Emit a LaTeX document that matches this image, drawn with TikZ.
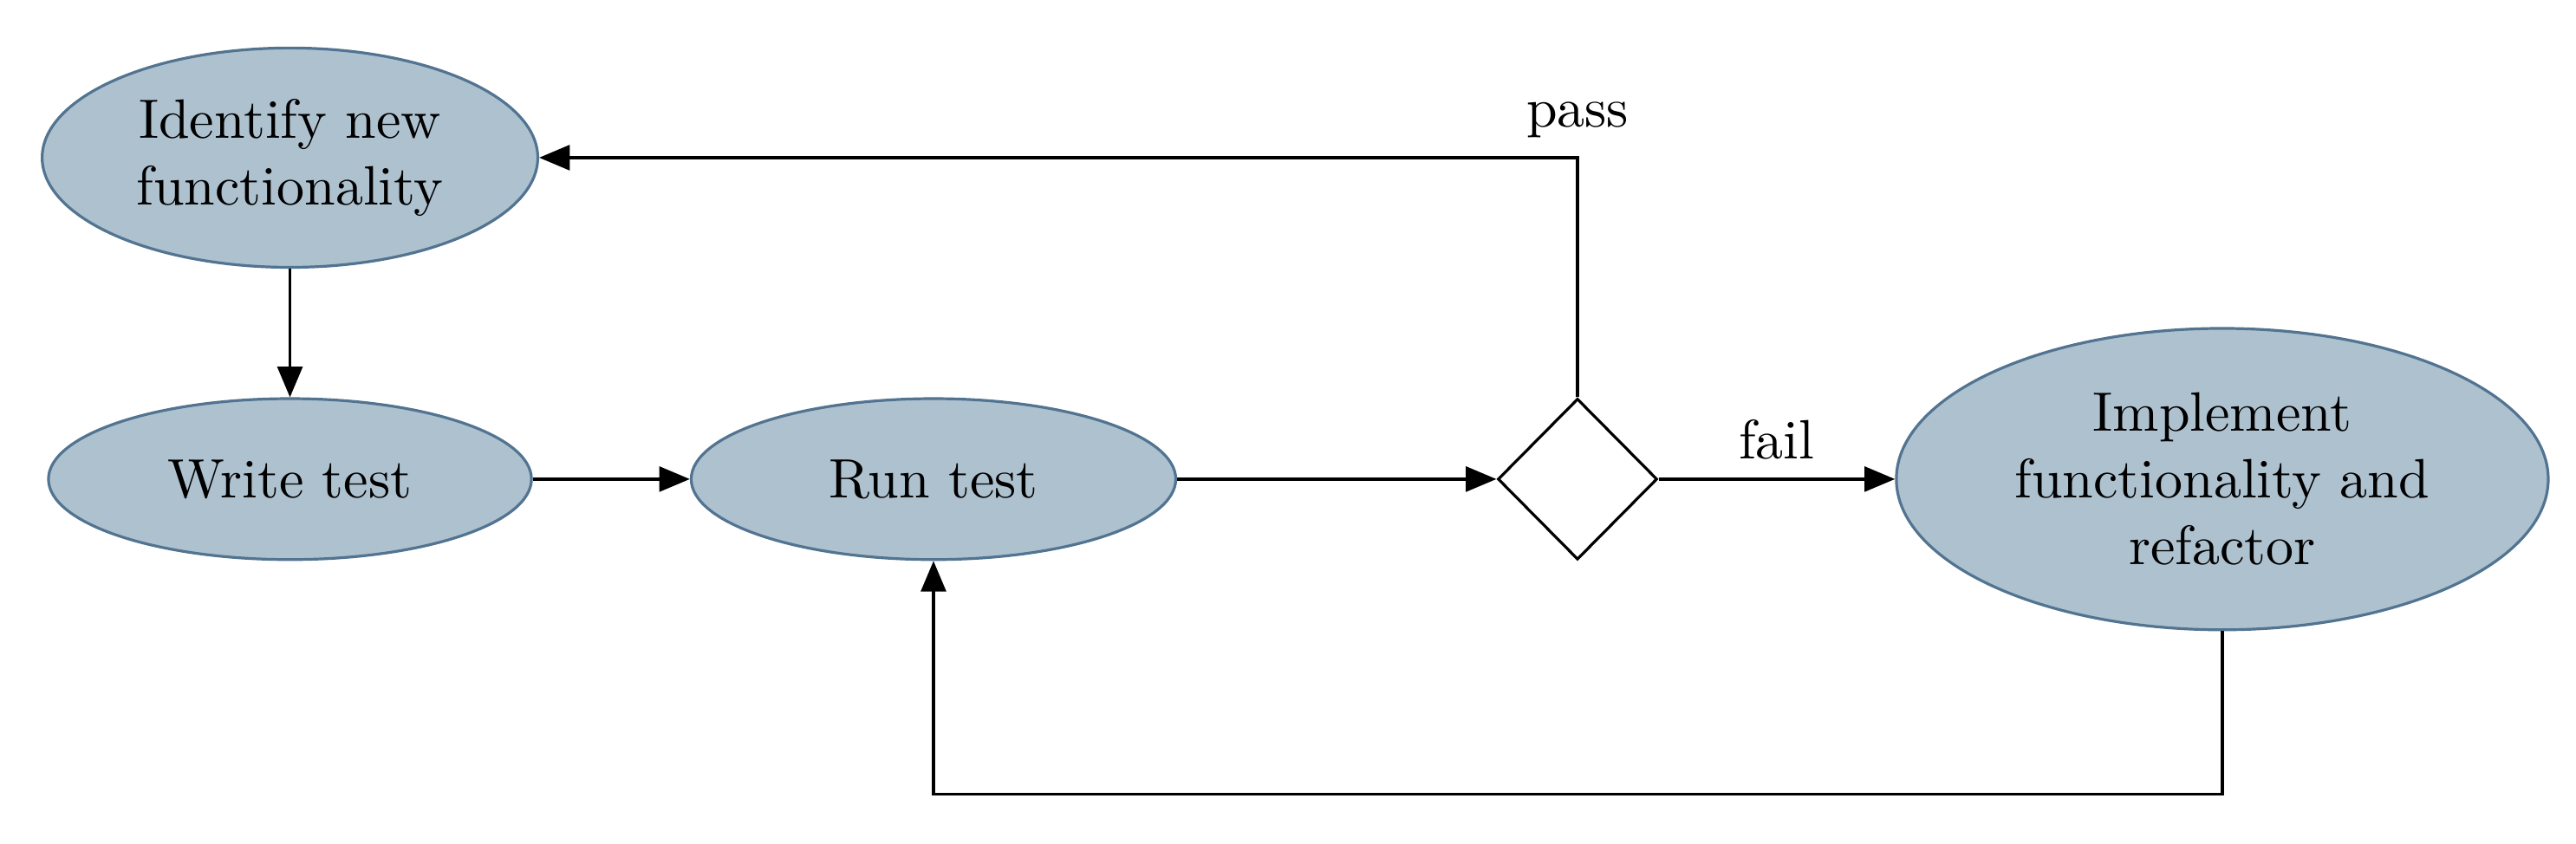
\documentclass[tikz,border=0pt]{standalone}
\usepackage{amsmath}
\usepackage{tikz}
\usetikzlibrary{arrows.meta,shapes,positioning}
\usepackage{color}

\definecolor{blockfill}{RGB}{174,193,207}
\definecolor{blockline}{RGB}{82,116,145}

\tikzset{
  block/.style={ellipse, draw=blockline, fill=blockfill, line width=0.5pt, inner sep=0pt, align=center},
  decision/.style={diamond, draw, line width=0.5pt, inner sep=0pt, minimum width=1.01cm, minimum height=1.02cm},
  flow/.style={line width=0.5pt, -{Triangle[length=5.5pt,width=4.5pt]}}
}

\begin{document}
\begin{tikzpicture}
\useasboundingbox (0,0) rectangle (16.32,5.348);

\node [block, minimum width=3.14cm, minimum height=1.39cm] (ident) at (1.837,4.349) {Identify new\\functionality};
\node [block, minimum width=3.06cm, minimum height=1.02cm] (write) at (1.837,2.312) {Write test};
\node [block, minimum width=3.07cm, minimum height=1.02cm] (run) at (5.914,2.312) {Run test};
\node [decision] (check) at (9.994,2.312) {};
\node [block, minimum width=4.13cm, minimum height=1.91cm] (impl) at (14.079,2.312) {Implement\\functionality and\\refactor};

\draw [flow] (ident) -- (write);
\draw [flow] (write) -- (run);
\draw [flow] (run) -- (check);
\draw [flow] (check) -- node [above] {fail} (impl);
\draw [flow] (check.north) |- node [pos=0.5, above] {pass} (ident.east);
\draw [flow] (impl.south) -- ++(0,-1.033) -| (run.south);
\end{tikzpicture}
\end{document}
